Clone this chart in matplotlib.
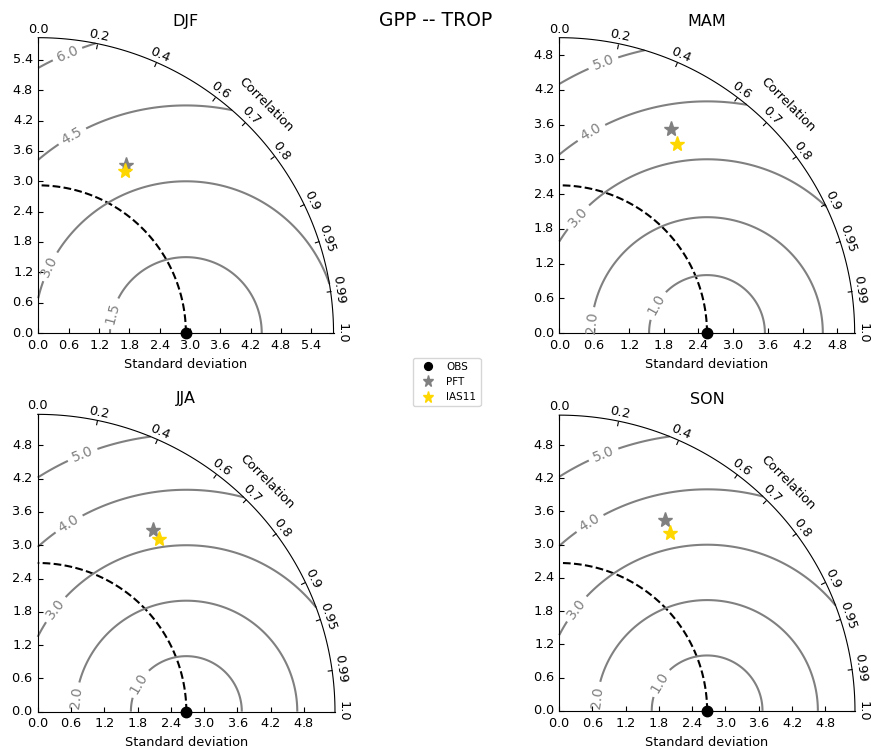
import numpy as np
import matplotlib
matplotlib.use('Agg')
import matplotlib.pyplot as plt
from matplotlib.projections import PolarAxes
import mpl_toolkits.axisartist.floating_axes as FA
import mpl_toolkits.axisartist.grid_finder as GF

# Taylor diagram data (std dev and correlation with OBS)
seasons = ['DJF', 'MAM', 'JJA', 'SON']
obs_std = [2.92, 2.55, 2.68, 2.67]
pft_std = [3.75, 4.02, 3.88, 3.94]
pft_corr = [0.461, 0.478, 0.534, 0.485]
ias_std = [3.63, 3.84, 3.80, 3.79]
ias_corr = [0.471, 0.527, 0.577, 0.528]

corr_ticks = [0.0, 0.2, 0.4, 0.6, 0.7, 0.8, 0.9, 0.95, 0.99, 1.0]

# quarter-circle box of each diagram (left, bottom, width, height) in figure fraction
boxes = [[0.0433, 0.5554, 0.3402, 0.3943],
         [0.6418, 0.5554, 0.3398, 0.3943],
         [0.0433, 0.0498, 0.3413, 0.3971],
         [0.6421, 0.0498, 0.3395, 0.3971]]

# where the rms labels sit on each circle (degrees round OBS, smallest level first)
label_angles = [[165, 154, 120, 113],
                [151, 175, 138, 120, 111],
                [149, 173, 142, 122, 112],
                [149, 173, 142, 122, 112]]


def expand(box, f=1.02):
    # floating axes pad their limits by 2%, so grow the rect to compensate
    l, b, w, h = box
    return [l - w * (f - 1) / 2, b - h * (f - 1) / 2, w * f, h * f]


class TaylorDiagram(object):
    '''
    Taylor diagram in a quarter of polar plane
    refstd: reference standard deviation
    '''
    def __init__(self, refstd, fig, rect, label='OBS', srange=(0, 2)):
        self.refstd = refstd
        tr = PolarAxes.PolarTransform()
        rlocs = np.array(corr_ticks)
        tlocs = np.arccos(rlocs)
        gl1 = GF.FixedLocator(tlocs)
        tf1 = GF.DictFormatter(dict(zip(tlocs, map(str, rlocs))))
        self.smin = srange[0] * refstd
        self.smax = srange[1] * refstd
        gh = FA.GridHelperCurveLinear(tr,
                                      extremes=(0, np.pi / 2, self.smin, self.smax),
                                      grid_locator1=gl1,
                                      tick_formatter1=tf1)
        ax = FA.FloatingAxes(fig, rect, grid_helper=gh)
        fig.add_axes(ax)

        ax.axis["top"].set_axis_direction("bottom")
        ax.axis["top"].toggle(ticklabels=True, label=True)
        ax.axis["top"].major_ticklabels.set_axis_direction("top")
        ax.axis["top"].label.set_axis_direction("top")
        ax.axis["top"].label.set_text("Correlation")

        ax.axis["left"].set_axis_direction("bottom")
        ax.axis["left"].label.set_text("Standard deviation")

        ax.axis["right"].set_axis_direction("top")
        ax.axis["right"].toggle(ticklabels=True)
        ax.axis["right"].major_ticklabels.set_axis_direction("left")

        ax.axis["bottom"].set_visible(False)

        for side in ["top", "left", "right"]:
            ax.axis[side].major_ticklabels.set_fontsize(9.3)
            ax.axis[side].label.set_fontsize(9.3)

        self._ax = ax
        self.ax = ax.get_aux_axes(tr)

        l, = self.ax.plot([0], self.refstd, 'ko', ms=7.5, label=label, clip_on=False, zorder=5)
        t = np.linspace(0, np.pi / 2)
        r = np.zeros_like(t) + self.refstd
        self.ax.plot(t, r, 'k--', lw=1.5, label='_')
        self.samplePoints = [l]

    def add_sample(self, stddev, corrcoef, *args, **kwargs):
        l, = self.ax.plot(np.arccos(corrcoef), stddev, *args, **kwargs)
        self.samplePoints.append(l)
        return l

    def add_contours(self, levels=5, **kwargs):
        rs, ts = np.meshgrid(np.linspace(self.smin, self.smax, 200),
                             np.linspace(0, np.pi / 2, 200))
        rms = np.sqrt(self.refstd**2 + rs**2 - 2 * self.refstd * rs * np.cos(ts))
        self.rms_range = (rms.min(), rms.max())
        return self.ax.contour(ts, rs, rms, levels, **kwargs)


fig = plt.figure(figsize=(8.71, 7.49), dpi=100)

for i, season in enumerate(seasons):
    dia = TaylorDiagram(obs_std[i], fig, expand(boxes[i]), label='OBS')
    dia.add_sample(pft_std[i], pft_corr[i], '*', color='gray', ms=11, label='PFT')
    dia.add_sample(ias_std[i], ias_corr[i], '*', color='gold', ms=11, label='IAS11')
    cs = dia.add_contours(colors='0.5', linewidths=1.5)
    # only the levels that are actually drawn inside the quadrant
    shown = [lev for lev in cs.levels if dia.rms_range[0] < lev < dia.rms_range[1]]
    # label positions on the rms circles, given in polar (theta, r)
    pos = []
    for lev, a in zip(shown, label_angles[i]):
        x = obs_std[i] + lev * np.cos(np.radians(a))
        y = lev * np.sin(np.radians(a))
        pos.append((np.arctan2(y, x), np.hypot(x, y)))
    plt.clabel(cs, inline=1, fontsize=10, fmt='%.1f', manual=pos)
    dia._ax.set_title(season, fontsize=11.5)

fig.suptitle('GPP -- TROP', fontsize=13.5, y=0.985)
fig.legend(dia.samplePoints, [p.get_label() for p in dia.samplePoints],
           numpoints=1, markerscale=0.75, prop=dict(size=7.5),
           loc='center', bbox_to_anchor=(0.513, 0.49))

fig.savefig('out.png', dpi=100)
